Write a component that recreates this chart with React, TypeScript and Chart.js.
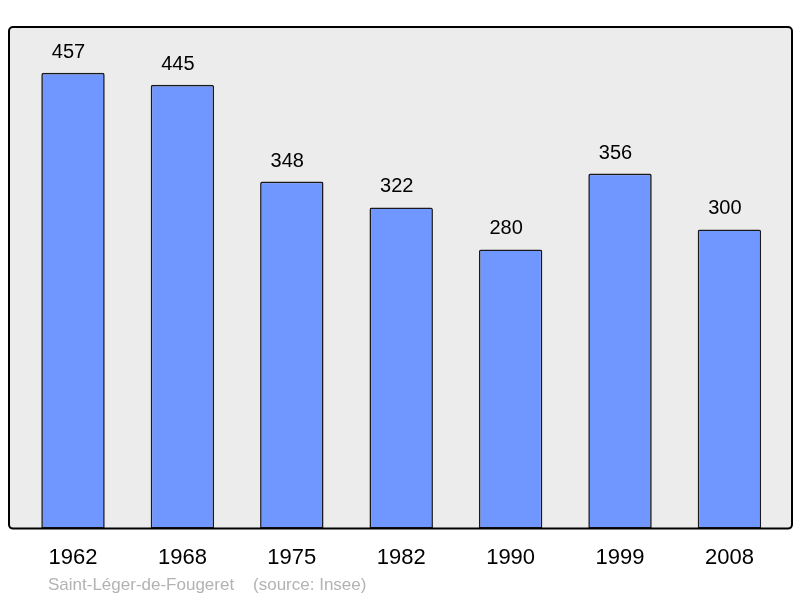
import React, { useEffect, useRef } from "react";
import { Chart, registerables } from "chart.js";

Chart.register(...registerables);

const years = ["1962", "1968", "1975", "1982", "1990", "1999", "2008"];
const population = [457, 445, 348, 322, 280, 356, 300];
const sourceText = "Saint-Léger-de-Fougeret    (source: Insee)";

const FONT = "'Liberation Sans', Arial, sans-serif";

function roundRect(ctx: CanvasRenderingContext2D, x: number, y: number, w: number, h: number, r: number) {
  ctx.beginPath();
  ctx.moveTo(x + r, y);
  ctx.lineTo(x + w - r, y);
  ctx.arcTo(x + w, y, x + w, y + r, r);
  ctx.lineTo(x + w, y + h - r);
  ctx.arcTo(x + w, y + h, x + w - r, y + h, r);
  ctx.lineTo(x + r, y + h);
  ctx.arcTo(x, y + h, x, y + h - r, r);
  ctx.lineTo(x, y + r);
  ctx.arcTo(x, y, x + r, y, r);
  ctx.closePath();
}

const framePlugin = {
  id: "frame",
  beforeDraw(chart: any) {
    const { ctx, chartArea: a } = chart;
    ctx.save();
    roundRect(ctx, a.left, a.top, a.right - a.left, a.bottom - a.top, 4);
    ctx.fillStyle = "#ececec";
    ctx.fill();
    ctx.restore();
  },
  afterDatasetsDraw(chart: any) {
    const { ctx, chartArea: a } = chart;
    ctx.save();
    roundRect(ctx, a.left, a.top, a.right - a.left, a.bottom - a.top, 4);
    ctx.lineWidth = 2;
    ctx.strokeStyle = "#000";
    ctx.stroke();
    // value labels
    ctx.fillStyle = "#000";
    ctx.font = `20px ${FONT}`;
    ctx.textAlign = "center";
    ctx.textBaseline = "alphabetic";
    const meta = chart.getDatasetMeta(0);
    meta.data.forEach((bar: any, i: number) => {
      ctx.fillText(String(population[i]), bar.x - 4.5, bar.y - 15);
    });
    // source
    ctx.fillStyle = "#b3b3b3";
    ctx.font = `17px ${FONT}`;
    ctx.textAlign = "left";
    ctx.fillText(sourceText, 48, 590);
    ctx.restore();
  },
};

export default function App() {
  const ref = useRef<HTMLCanvasElement>(null);
  useEffect(() => {
    document.body.style.margin = "0";
    const chart = new Chart(ref.current!, {
      type: "bar",
      data: {
        datasets: [
          {
            data: population.map((v, i) => ({ x: i, y: v })),
            backgroundColor: "#7096ff",
            borderColor: "#1a1a1a",
            borderWidth: 1.6,
            borderSkipped: false,
            borderRadius: { topLeft: 2, topRight: 2, bottomLeft: 0, bottomRight: 0 },
            barPercentage: 0.58,
            categoryPercentage: 1,
          },
        ],
      },
      options: {
        animation: false,
        responsive: false,
        layout: { padding: { left: 9, right: 8, top: 27, bottom: 11 } },
        plugins: { legend: { display: false }, tooltip: { enabled: false }, title: { display: false } },
        scales: {
          x: {
            type: "linear",
            offset: false,
            bounds: "data",
            min: -0.585,
            max: 6.572,
            grid: { display: false, drawTicks: false, offset: false },
            border: { display: false },
            afterBuildTicks: (scale: any) => {
              scale.ticks = years.map((_, i) => ({ value: i }));
            },
            ticks: {
              autoSkip: false,
              maxRotation: 0,
              padding: 16,
              color: "#000",
              font: { family: FONT, size: 22 },
              callback: (v: any) => years[v as number] ?? "",
            },
          },
          y: {
            display: false,
            min: 0,
            max: 503,
          },
        },
      },
      plugins: [framePlugin],
    } as any);
    return () => chart.destroy();
  }, []);
  return (
    <div style={{ position: "fixed", left: 0, top: 0, width: 800, height: 598 }}>
      <canvas ref={ref} width={800} height={598} style={{ width: 800, height: 598 }} />
    </div>
  );
}
